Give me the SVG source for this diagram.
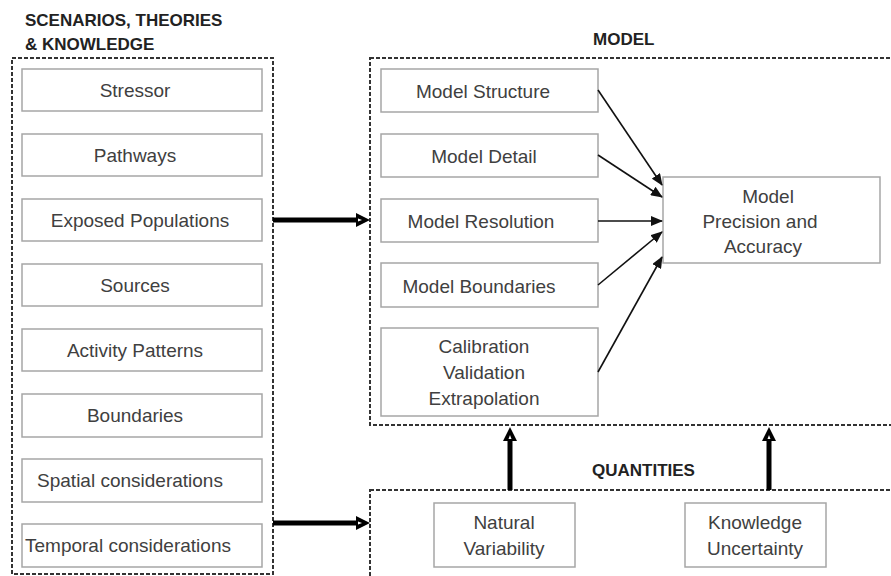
<svg xmlns="http://www.w3.org/2000/svg" width="891" height="576" viewBox="0 0 891 576">
<style>
.box{fill:#fff;stroke:#a6a6a6;stroke-width:1.5}
.cont{fill:none;stroke:#333;stroke-width:2;stroke-dasharray:4 2}
.t{font-family:"Liberation Sans",Arial,sans-serif;font-size:19px;fill:#404040;text-anchor:middle}
.h{font-family:"Liberation Sans",Arial,sans-serif;font-size:17px;font-weight:bold;fill:#222}
.thin{stroke:#111;stroke-width:1.6;fill:none;marker-end:url(#ah)}
.thick{stroke:#000;stroke-width:5;fill:none;marker-end:url(#ath)}
</style>
<defs>
<marker id="ah" markerUnits="userSpaceOnUse" markerWidth="12" markerHeight="10" refX="11" refY="5" orient="auto"><path d="M0,0 L12,5 L0,10 z" fill="#111"/></marker>
<marker id="ath" markerUnits="userSpaceOnUse" markerWidth="16" markerHeight="16" refX="0" refY="8" orient="auto"><path d="M0,1 L14,8 L0,15 z" fill="#000"/><path d="M2,6.5 L6,8 L2,9.5 z" fill="#fff"/></marker>
</defs>
<rect width="891" height="576" fill="#fff"/>

<g id="containers">
<rect class="cont" x="12" y="58" width="261" height="516"/>
<rect class="cont" x="370" y="58" width="540" height="367"/>
<rect class="cont" x="370" y="490" width="540" height="100"/>
<text class="h" x="25" y="26">SCENARIOS, THEORIES</text>
<text class="h" x="25" y="50">&amp; KNOWLEDGE</text>
<text class="h" x="593" y="45">MODEL</text>
<text class="h" x="592" y="476">QUANTITIES</text>
</g>

<g id="n-stressor"><rect class="box" x="22" y="69" width="240" height="42"/><text class="t" x="135" y="97">Stressor</text></g>
<g id="n-pathways"><rect class="box" x="22" y="134" width="240" height="42"/><text class="t" x="135" y="162">Pathways</text></g>
<g id="n-exposed"><rect class="box" x="22" y="199" width="240" height="42"/><text class="t" x="140" y="227">Exposed Populations</text></g>
<g id="n-sources"><rect class="box" x="22" y="264" width="240" height="42"/><text class="t" x="135" y="292">Sources</text></g>
<g id="n-activity"><rect class="box" x="22" y="329" width="240" height="42"/><text class="t" x="135" y="357">Activity Patterns</text></g>
<g id="n-boundaries"><rect class="box" x="22" y="394" width="240" height="43"/><text class="t" x="135" y="422">Boundaries</text></g>
<g id="n-spatial"><rect class="box" x="22" y="459" width="240" height="43"/><text class="t" x="130" y="487">Spatial considerations</text></g>
<g id="n-temporal"><rect class="box" x="22" y="524" width="240" height="43"/><text class="t" x="128" y="552">Temporal considerations</text></g>

<g id="n-structure"><rect class="box" x="381" y="69" width="217" height="43"/><text class="t" x="483" y="98">Model Structure</text></g>
<g id="n-detail"><rect class="box" x="381" y="134" width="217" height="43"/><text class="t" x="484" y="163">Model Detail</text></g>
<g id="n-resolution"><rect class="box" x="381" y="199" width="217" height="43"/><text class="t" x="481" y="228">Model Resolution</text></g>
<g id="n-mboundaries"><rect class="box" x="381" y="263" width="217" height="44"/><text class="t" x="479" y="293">Model Boundaries</text></g>
<g id="n-calibration"><rect class="box" x="381" y="328" width="217" height="88"/><text class="t" x="484" y="353">Calibration</text><text class="t" x="484" y="379">Validation</text><text class="t" x="484" y="405">Extrapolation</text></g>

<g id="n-precision"><rect class="box" x="663" y="177" width="217" height="86"/><text class="t" x="768" y="203">Model</text><text class="t" x="760" y="228">Precision and</text><text class="t" x="763" y="253">Accuracy</text></g>

<g id="n-natural"><rect class="box" x="434" y="503" width="141" height="64"/><text class="t" x="504" y="529">Natural</text><text class="t" x="504" y="555">Variability</text></g>
<g id="n-knowledge"><rect class="box" x="685" y="503" width="141" height="64"/><text class="t" x="755" y="529">Knowledge</text><text class="t" x="755" y="555">Uncertainty</text></g>

<g id="connectors">
<line class="thin" x1="598" y1="90" x2="662" y2="185"/>
<line class="thin" x1="598" y1="155" x2="662" y2="197"/>
<line class="thin" x1="598" y1="221" x2="662" y2="221"/>
<line class="thin" x1="598" y1="285" x2="662" y2="232"/>
<line class="thin" x1="598" y1="372" x2="662" y2="257"/>
<line class="thick" x1="273" y1="220" x2="356" y2="220"/>
<line class="thick" x1="273" y1="523" x2="356" y2="523"/>
<line class="thick" x1="510" y1="490" x2="510" y2="441"/>
<line class="thick" x1="769" y1="490" x2="769" y2="441"/>
</g>
</svg>
